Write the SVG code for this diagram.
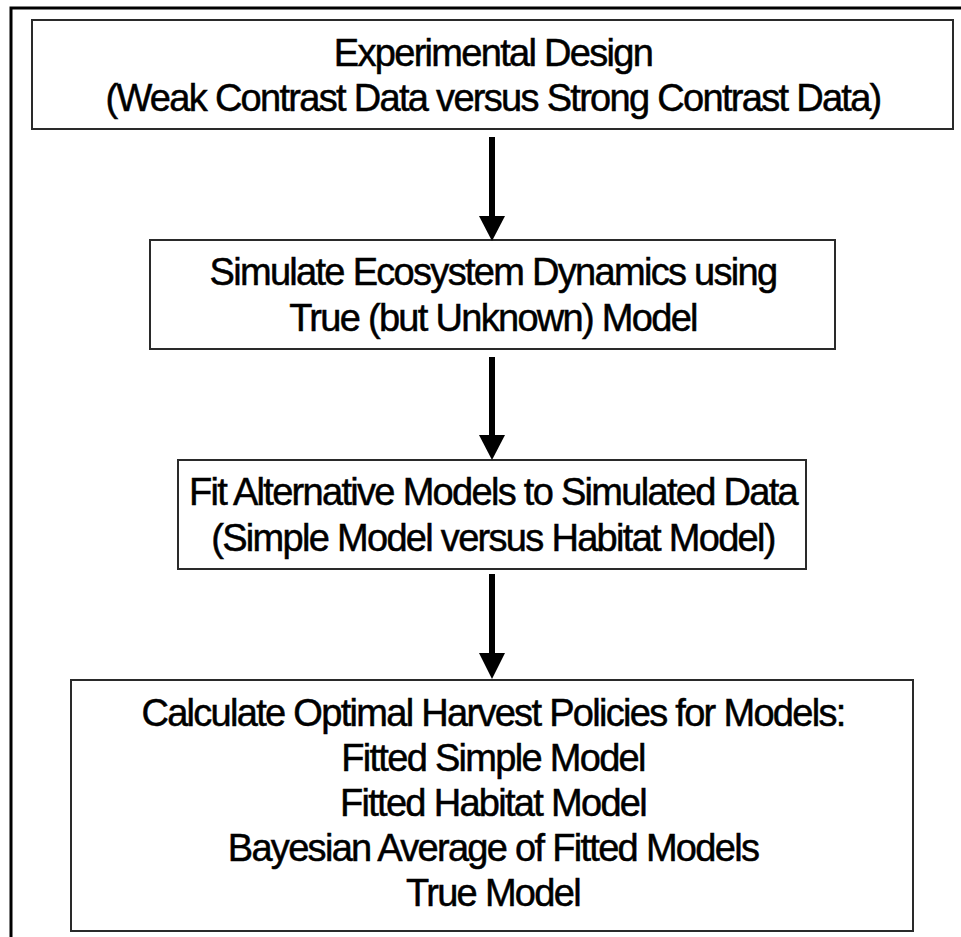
<svg xmlns="http://www.w3.org/2000/svg" width="961" height="937" viewBox="0 0 961 937">
  <defs>
    <style>
      .frame { fill: none; stroke: #000; stroke-width: 3; }
      .box { fill: #fff; stroke: #2a2a2a; stroke-width: 2; }
      .label { font-family: "Liberation Sans", Arial, sans-serif; font-size: 38px; letter-spacing: -1.7px; fill: #000; stroke: #000; stroke-width: 0.5; text-anchor: middle; }
      .shaft { stroke: #000; stroke-width: 6; fill: none; }
      .head { fill: #000; }
    </style>
  </defs>

  <rect x="0" y="0" width="961" height="937" fill="#fff"/>

  <!-- outer frame, open to the right and bottom -->
  <path class="frame" d="M11,940 V8 H965"/>

  <g id="experimental-design">
    <rect class="box" x="32" y="20" width="921" height="109"/>
    <text class="label" x="493" y="66">Experimental Design</text>
    <text class="label" x="493" y="111">(Weak Contrast Data versus Strong Contrast Data)</text>
  </g>

  <g id="simulate-dynamics">
    <rect class="box" x="150" y="240" width="685" height="109"/>
    <text class="label" x="493" y="285">Simulate Ecosystem Dynamics using</text>
    <text class="label" x="493" y="331">True (but Unknown) Model</text>
  </g>

  <g id="fit-models">
    <rect class="box" x="178" y="460" width="628" height="109"/>
    <text class="label" x="493" y="505">Fit Alternative Models to Simulated Data</text>
    <text class="label" x="493" y="551">(Simple Model versus Habitat Model)</text>
  </g>

  <g id="optimal-policies">
    <rect class="box" x="71" y="680" width="842" height="251"/>
    <text class="label" x="493" y="726">Calculate Optimal Harvest Policies for Models:</text>
    <text class="label" x="493" y="771">Fitted Simple Model</text>
    <text class="label" x="493" y="816">Fitted Habitat Model</text>
    <text class="label" x="493" y="861">Bayesian Average of Fitted Models</text>
    <text class="label" x="493" y="906">True Model</text>
  </g>

  <g id="connectors">
    <line class="shaft" x1="492" y1="137" x2="492" y2="218"/>
    <polygon class="head" points="479,216 505,216 492,241"/>
    <line class="shaft" x1="492" y1="357" x2="492" y2="437"/>
    <polygon class="head" points="479,435 505,435 492,460"/>
    <line class="shaft" x1="492" y1="574" x2="492" y2="655"/>
    <polygon class="head" points="479,653 505,653 492,679"/>
  </g>
</svg>
